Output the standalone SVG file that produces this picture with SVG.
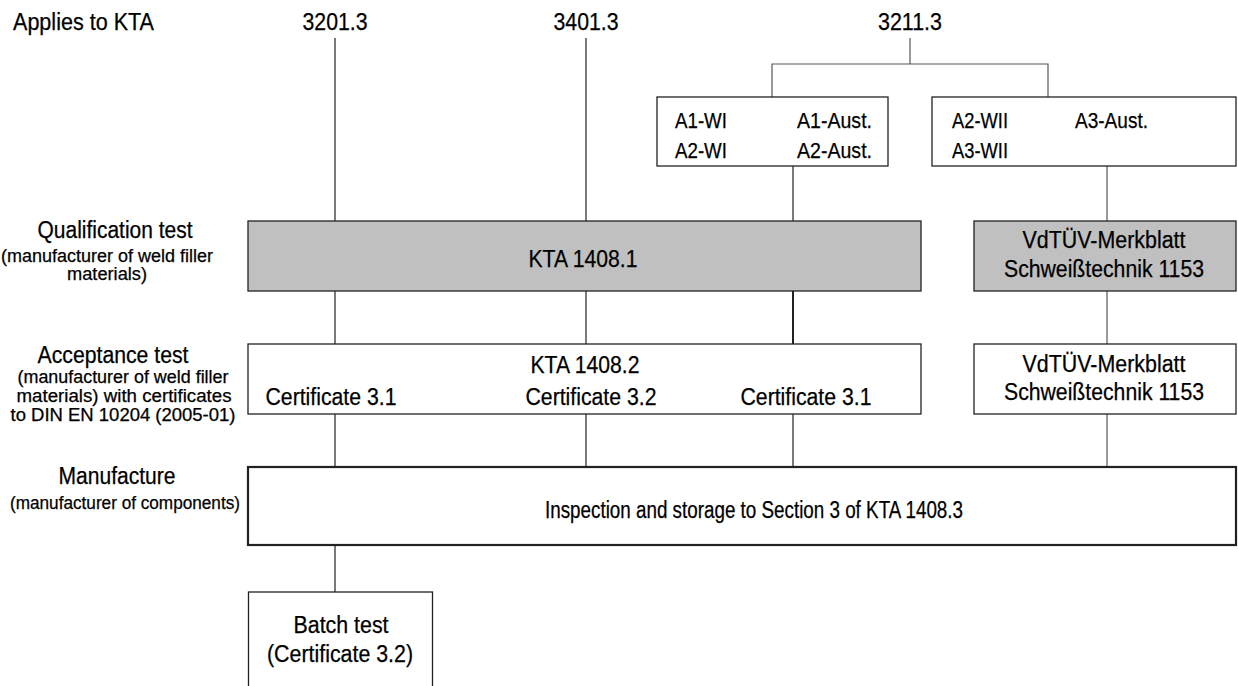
<svg xmlns="http://www.w3.org/2000/svg" width="1238" height="686" viewBox="0 0 1238 686">
<style>
  text { font-family: "Liberation Sans", Arial, sans-serif; fill: #000; stroke: #000; stroke-width: 0.25; }
  .t { font-size: 23px; }
  .s { font-size: 17.5px; }
  .a { font-size: 22px; }
  .c { text-anchor: middle; }
  .box { fill: #fff; stroke: #222; stroke-width: 1.3; }
  .grey { fill: #c0c0c0; stroke: #222; stroke-width: 1.3; }
  .ln { stroke: #222; stroke-width: 1.2; fill: none; }
  .br { stroke: #555; stroke-width: 1.2; fill: none; }
</style>
<rect width="1238" height="686" fill="#fff"/>

<g id="connectors">
  <line class="ln" x1="335" y1="38" x2="335" y2="221"/>
  <line class="ln" x1="586" y1="38" x2="586" y2="221"/>
  <line class="br" x1="910" y1="38" x2="910" y2="64"/>
  <polyline class="br" points="772,97 772,64 1048,64 1048,97"/>
  <line class="ln" x1="793" y1="166" x2="793" y2="221"/>
  <line class="br" x1="1107" y1="166" x2="1107" y2="221"/>
  <line class="ln" x1="335" y1="291" x2="335" y2="344"/>
  <line class="ln" x1="586" y1="291" x2="586" y2="344"/>
  <line class="ln" x1="793" y1="291" x2="793" y2="344" style="stroke-width:2"/>
  <line class="br" x1="1107" y1="291" x2="1107" y2="344"/>
  <line class="ln" x1="335" y1="414" x2="335" y2="467"/>
  <line class="ln" x1="586" y1="414" x2="586" y2="467"/>
  <line class="ln" x1="793" y1="414" x2="793" y2="467"/>
  <line class="br" x1="1107" y1="414" x2="1107" y2="467"/>
  <line class="ln" x1="335" y1="545" x2="335" y2="592"/>
</g>

<g id="header">
  <text class="t" x="13" y="30" textLength="141" lengthAdjust="spacingAndGlyphs">Applies to KTA</text>
  <text class="t c" x="335" y="30" textLength="65" lengthAdjust="spacingAndGlyphs">3201.3</text>
  <text class="t c" x="586" y="30" textLength="65" lengthAdjust="spacingAndGlyphs">3401.3</text>
  <text class="t c" x="910" y="30" textLength="64" lengthAdjust="spacingAndGlyphs">3211.3</text>
</g>

<g id="row-labels">
  <text class="t c" x="115" y="238" textLength="155" lengthAdjust="spacingAndGlyphs">Qualification test</text>
  <text class="s c" x="107" y="262" textLength="212" lengthAdjust="spacingAndGlyphs">(manufacturer of weld filler</text>
  <text class="s c" x="107" y="280" textLength="80" lengthAdjust="spacingAndGlyphs">materials)</text>
  <text class="t c" x="113" y="363" textLength="151" lengthAdjust="spacingAndGlyphs">Acceptance test</text>
  <text class="s c" x="123" y="383" textLength="211" lengthAdjust="spacingAndGlyphs">(manufacturer of weld filler</text>
  <text class="s c" x="124" y="402" textLength="215" lengthAdjust="spacingAndGlyphs">materials) with certificates</text>
  <text class="s c" x="123" y="421" textLength="225" lengthAdjust="spacingAndGlyphs">to DIN EN 10204 (2005-01)</text>
  <text class="t c" x="117" y="484" textLength="117" lengthAdjust="spacingAndGlyphs">Manufacture</text>
  <text class="s c" x="125" y="509" textLength="230" lengthAdjust="spacingAndGlyphs">(manufacturer of components)</text>
</g>

<g id="grades-a">
  <rect class="box" x="657" y="97" width="231" height="69"/>
  <text class="a" x="675" y="128" textLength="52" lengthAdjust="spacingAndGlyphs">A1-WI</text>
  <text class="a" x="797" y="128" textLength="75" lengthAdjust="spacingAndGlyphs">A1-Aust.</text>
  <text class="a" x="675" y="158" textLength="52" lengthAdjust="spacingAndGlyphs">A2-WI</text>
  <text class="a" x="797" y="158" textLength="75" lengthAdjust="spacingAndGlyphs">A2-Aust.</text>
</g>

<g id="grades-b">
  <rect class="box" x="932" y="97" width="304" height="69"/>
  <text class="a" x="952" y="128" textLength="56" lengthAdjust="spacingAndGlyphs">A2-WII</text>
  <text class="a" x="1075" y="128" textLength="73" lengthAdjust="spacingAndGlyphs">A3-Aust.</text>
  <text class="a" x="952" y="158" textLength="56" lengthAdjust="spacingAndGlyphs">A3-WII</text>
</g>

<g id="kta-1408-1">
  <rect class="grey" x="248" y="221" width="673" height="70"/>
  <text class="t c" x="583" y="267" textLength="109" lengthAdjust="spacingAndGlyphs">KTA 1408.1</text>
</g>

<g id="vdtuev-qual">
  <rect class="grey" x="974" y="221" width="262" height="70"/>
  <text class="t c" x="1104" y="248" textLength="163" lengthAdjust="spacingAndGlyphs">VdTÜV-Merkblatt</text>
  <text class="t c" x="1104" y="277" textLength="200" lengthAdjust="spacingAndGlyphs">Schweißtechnik 1153</text>
</g>

<g id="kta-1408-2">
  <rect class="box" x="248" y="344" width="673" height="70"/>
  <text class="t c" x="585" y="373" textLength="109" lengthAdjust="spacingAndGlyphs">KTA 1408.2</text>
  <text class="t c" x="331" y="405" textLength="131" lengthAdjust="spacingAndGlyphs">Certificate 3.1</text>
  <text class="t c" x="591" y="405" textLength="131" lengthAdjust="spacingAndGlyphs">Certificate 3.2</text>
  <text class="t c" x="806" y="405" textLength="131" lengthAdjust="spacingAndGlyphs">Certificate 3.1</text>
</g>

<g id="vdtuev-accept">
  <rect class="box" x="974" y="344" width="262" height="70"/>
  <text class="t c" x="1104" y="372" textLength="163" lengthAdjust="spacingAndGlyphs">VdTÜV-Merkblatt</text>
  <text class="t c" x="1104" y="400" textLength="200" lengthAdjust="spacingAndGlyphs">Schweißtechnik 1153</text>
</g>

<g id="manufacture">
  <rect class="box" x="248" y="467" width="988" height="78" style="stroke-width:2.2"/>
  <text class="t c" x="754" y="518" textLength="418" lengthAdjust="spacingAndGlyphs">Inspection and storage to Section 3 of KTA 1408.3</text>
</g>

<g id="batch-test">
  <rect class="box" x="248.5" y="592" width="184" height="110"/>
  <text class="t c" x="341" y="633" textLength="95" lengthAdjust="spacingAndGlyphs">Batch test</text>
  <text class="t c" x="340" y="662" textLength="146" lengthAdjust="spacingAndGlyphs">(Certificate 3.2)</text>
</g>
</svg>
